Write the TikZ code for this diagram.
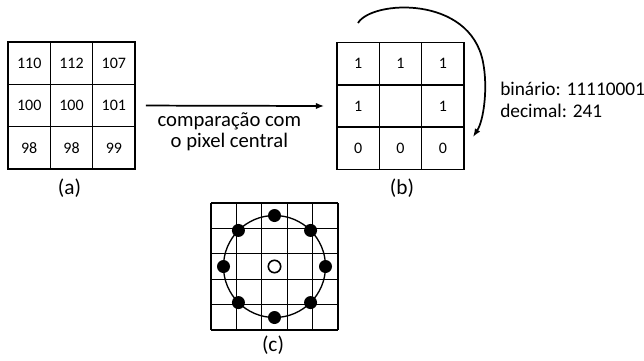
\documentclass[tikz,border=0pt]{standalone}
\usepackage{fontspec}
\setmainfont{Carlito}
\usetikzlibrary{arrows.meta}

\begin{document}
\begin{tikzpicture}[x=0.75pt, y=-0.75pt, cell/.style={draw, line width=1.1pt, minimum size=31.75pt, inner sep=0pt, font=\fontsize{12}{14}\selectfont}, flow/.style={-{Latex[length=2.2mm]}, line width=1.3pt}, label/.style={font=\fontsize{16}{18}\selectfont}, note/.style={font=\fontsize{14.5}{16.3}\selectfont, align=left, inner sep=0pt}]
\useasboundingbox (0,0) rectangle (644,361);

% (a) vizinhanca com intensidades
\foreach \v [count=\k from 0] in {110,112,107,100,100,101,98,98,99} {
  \pgfmathtruncatemacro{\ri}{div(\k,3)} \pgfmathtruncatemacro{\ci}{mod(\k,3)}
  \node[cell] (a\ri\ci) at (29.2+42.33*\ci, 63.2+42.33*\ri) {\v};
}
\node[label] (la) at (69.5,188) {(a)};

% (b) resultado binario
\foreach \v [count=\k from 0] in {1,1,1,1,{},1,0,0,0} {
  \pgfmathtruncatemacro{\ri}{div(\k,3)} \pgfmathtruncatemacro{\ci}{mod(\k,3)}
  \node[cell] (b\ri\ci) at (358.2+42.33*\ci, 63.7+42.33*\ri) {\v};
}
\node[label] (lb) at (402,188) {(b)};

\draw[flow, shorten <=7.5pt, shorten >=9pt] (a12.east) -- (b10.west) node[midway, below=1pt, xshift=-5pt, font=\fontsize{15.5}{16}\selectfont, align=center] {comparação com\\o pixel central};

\coordinate (cs) at (358,23); \coordinate (cm) at (483,62); \coordinate (ce) at (473,137);
\draw[flow] (cs) .. controls (372,0) and (470,-5) .. (cm) .. controls (488,87) and (484,120) .. (ce);
\node[note, anchor=west] (code) at (500,100) {binário: 11110001\\decimal: 241};

% (c) vizinhanca circular
\foreach \i in {0,...,5} {
  \draw[line width=0.9pt] (211+25.4*\i,203) -- (211+25.4*\i,330);
  \draw[line width=0.9pt] (211,203+25.4*\i) -- (338,203+25.4*\i);
}
\draw[line width=1pt] (274.5,266.5) circle[radius=51];
\foreach \a in {0,45,...,315} \fill[shift={(274.5,266.5)}] (\a:51) circle[radius=6.5];
\draw[line width=1.2pt, fill=white] (274.5,266.5) circle[radius=6.2];
\node[label] (lc) at (273,345) {(c)};
\end{tikzpicture}
\end{document}
